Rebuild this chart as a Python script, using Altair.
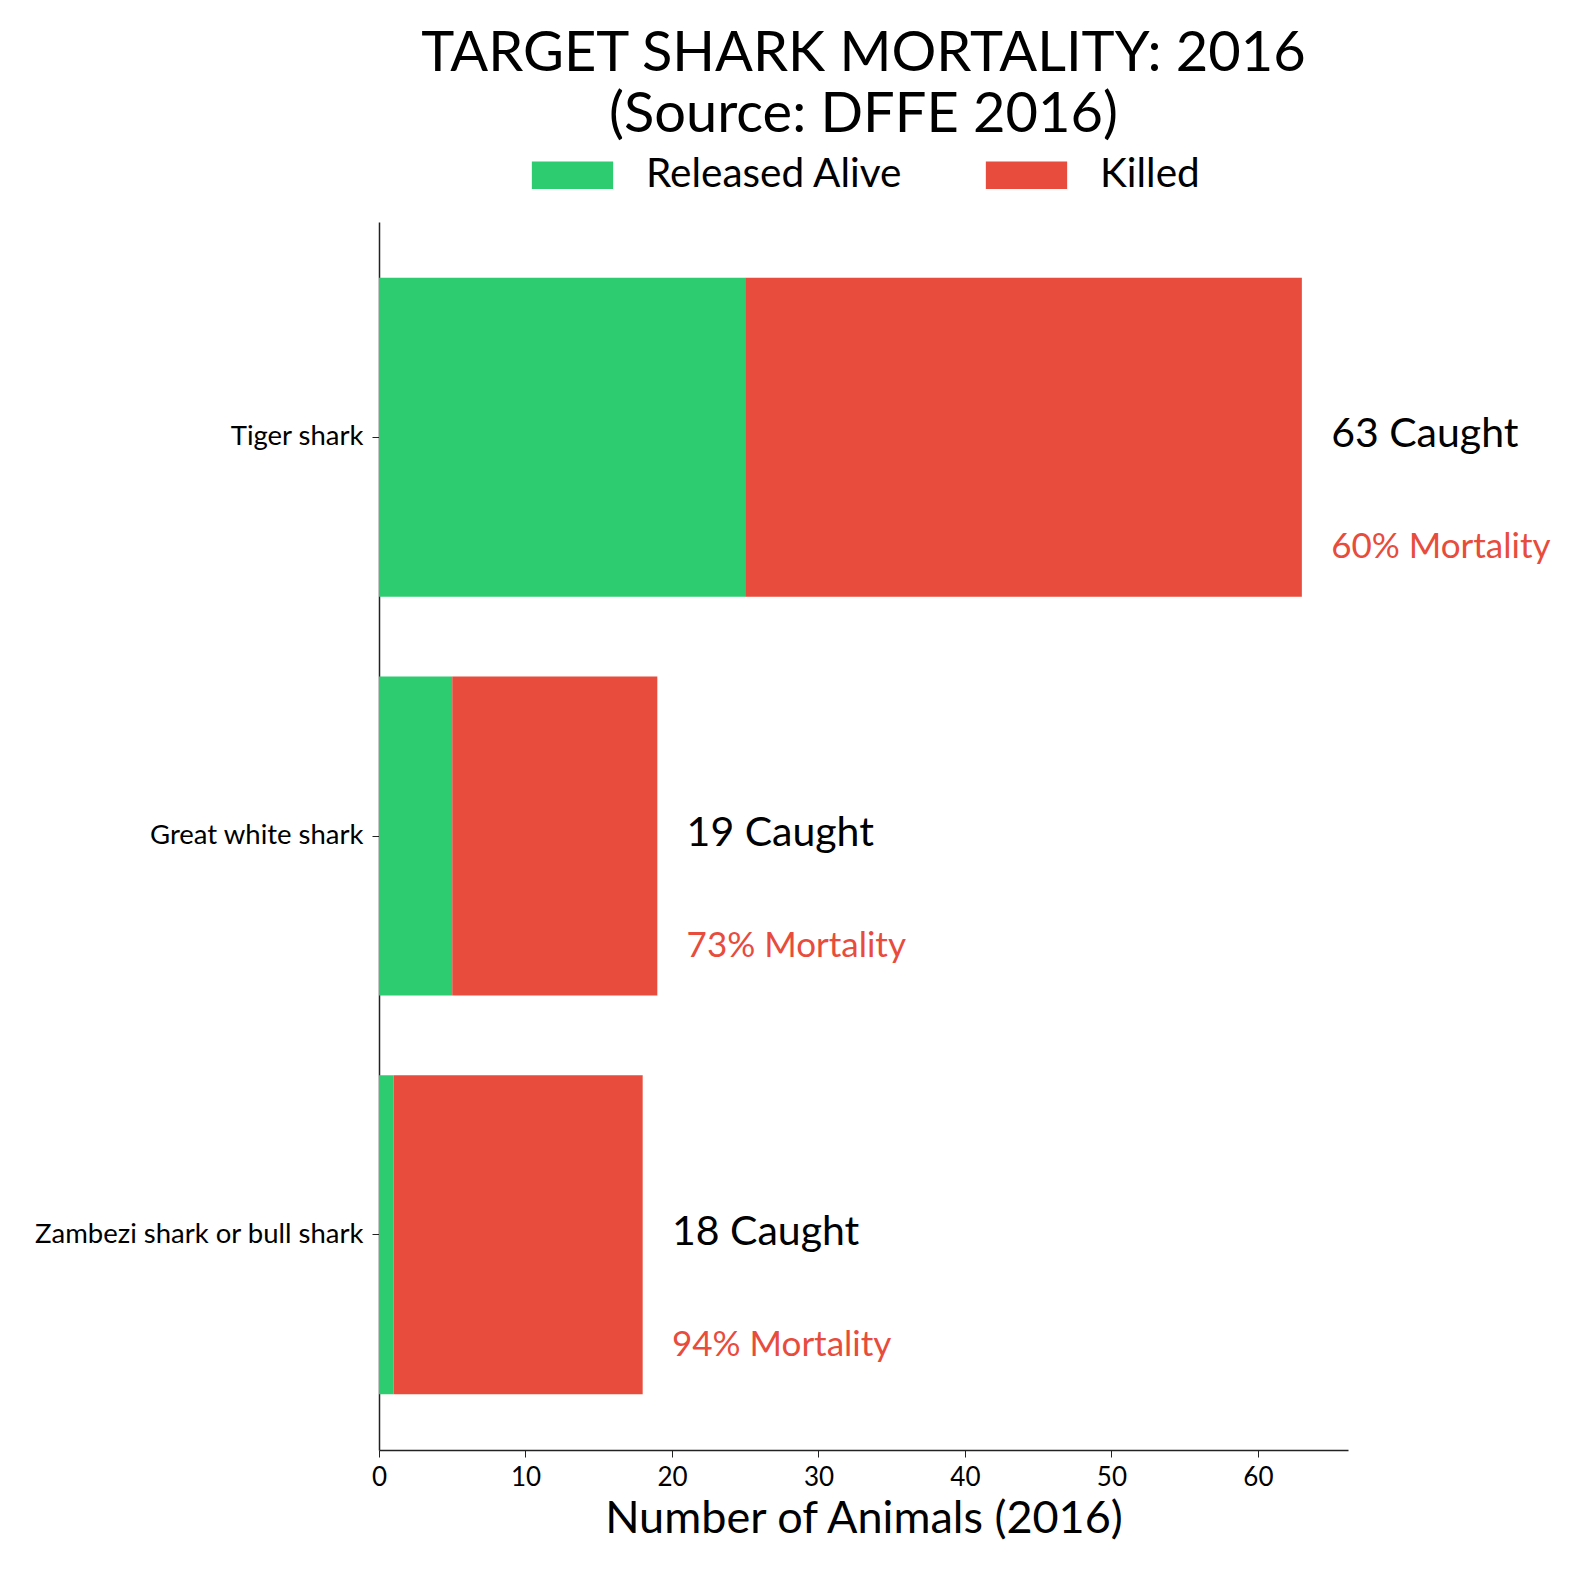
import altair as alt
import pandas as pd

species = ["Tiger shark", "Great white shark", "Zambezi shark or bull shark"]
released = [25, 5, 1]
killed = [38, 14, 17]
mortality = [60, 73, 94]

status = ["Released Alive", "Killed"]
colors = ["#2ECC71", "#E74C3C"]
FONT = "Lato"

rows = []
for i, s in enumerate(species):
    rows.append({"species": s, "status": "Released Alive", "n": released[i], "o": 0})
    rows.append({"species": s, "status": "Killed", "n": killed[i], "o": 1})
bars_df = pd.DataFrame(rows)

lab_df = pd.DataFrame({
    "species": species,
    "total": [r + k for r, k in zip(released, killed)],
    "mort": mortality,
})
lab_df["pos"] = lab_df["total"] + 2
lab_df["caught"] = lab_df["total"].astype(str) + " Caught"
lab_df["mlab"] = lab_df["mort"].astype(str) + "% Mortality"

xscale = alt.Scale(domain=[0, 66.15], nice=False, zero=True)
yscale = alt.Scale(domain=species, paddingInner=0.2, paddingOuter=0.14)

bars = alt.Chart(bars_df).mark_bar().encode(
    y=alt.Y("species:N", scale=yscale, sort=species,
            axis=alt.Axis(title=None, labelFontSize=27.5, labelFont=FONT, labelColor="#000",
                          labelLimit=1000, domainColor="#222", domainWidth=1.5,
                          tickColor="#222", tickSize=7, labelPadding=9)),
    x=alt.X("n:Q", stack="zero", scale=xscale,
            axis=alt.Axis(title="Number of Animals (2016)", titleFontSize=45, titleFont=FONT,
                          titleFontWeight="normal", titleColor="#000", titlePadding=6,
                          values=[0, 10, 20, 30, 40, 50, 60], format="d", labelFlush=False,
                          labelFontSize=26, labelFont=FONT, labelColor="#000",
                          domainColor="#222", domainWidth=1.5, tickColor="#222",
                          tickSize=7, labelPadding=7, grid=False)),
    color=alt.Color("status:N", scale=alt.Scale(domain=status, range=colors),
                    legend=alt.Legend(title=None, orient="none", direction="horizontal",
                                      legendX=152.5, legendY=-88,
                                      symbolType="M-1,-0.338H1V0.338H-1Z", symbolSize=6610,
                                      symbolStrokeWidth=0, symbolOpacity=1,
                                      labelFontSize=40.5, labelFont=FONT, labelColor="#000",
                                      labelLimit=1000, labelOffset=32.5, columnPadding=82,
                                      padding=0)),
    order=alt.Order("o:Q"),
)

caught = alt.Chart(lab_df).mark_text(
    align="left", baseline="middle", fontSize=41, font=FONT, color="#000", dy=-2
).encode(
    y=alt.Y("species:N", scale=yscale, sort=species),
    x=alt.X("pos:Q", scale=xscale),
    text="caught:N",
)

mort = alt.Chart(lab_df).mark_text(
    align="left", baseline="middle", fontSize=35, font=FONT, color="#E74C3C", dy=110
).encode(
    y=alt.Y("species:N", scale=yscale, sort=species),
    x=alt.X("pos:Q", scale=xscale),
    text="mlab:N",
)

chart = (bars + caught + mort).properties(
    width=969,
    height=1228,
    background="white",
    autosize=alt.AutoSizeParams(type="none"),
    padding={"left": 371, "top": 214, "right": 225, "bottom": 120},
    title=alt.TitleParams(
        text=["TARGET SHARK MORTALITY: 2016", "(Source: DFFE 2016)"],
        fontSize=56, font=FONT, fontWeight="normal", color="#000",
        lineHeight=61, anchor="middle", offset=-10,
    ),
).configure_view(stroke=None)

chart.save("out.html", embed_options={"renderer": "svg", "actions": False})
